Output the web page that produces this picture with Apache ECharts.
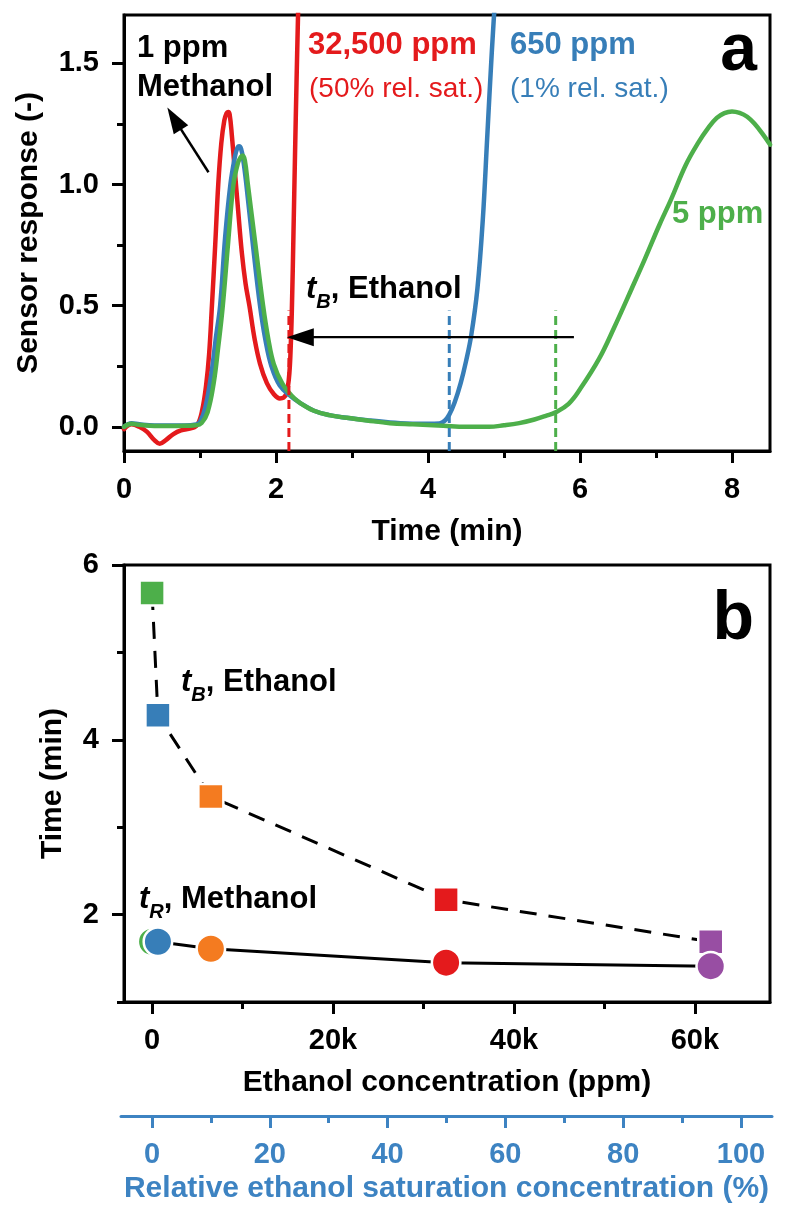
<!DOCTYPE html>
<html>
<head>
<meta charset="utf-8">
<script src="https://cdn.jsdelivr.net/npm/echarts@6/dist/echarts.min.js"></script>
<style>
html,body{margin:0;padding:0;background:#fff;}
#chart{width:786px;height:1205px;}
</style>
</head>
<body>
<div id="chart"></div>
<script>
// ---------- Panel (a): sensor response vs time ----------
const redTime  = [0,0.1,0.2,0.3,0.4,0.47,0.55,0.65,0.75,0.9,0.97,1.03,1.08,1.12,1.157,1.2,1.24,1.28,1.32,1.35,1.37,1.39,1.42,1.46,1.5,1.55,1.6,1.65,1.72,1.79,1.88,1.97,2.05,2.1,2.14,2.17,2.19,2.21,2.23,2.25,2.27,2.29,2.31];
const redResp  = [-0.01,0.01,0.0,-0.02,-0.055,-0.07,-0.055,-0.03,-0.015,-0.005,0.01,0.07,0.17,0.3,0.5,0.75,1.0,1.17,1.265,1.295,1.30,1.29,1.2,1.05,0.9,0.72,0.59,0.5,0.36,0.26,0.18,0.135,0.117,0.12,0.14,0.2,0.3,0.5,0.8,1.12,1.42,1.7,1.95];
const blueTime = [0,0.1,0.2,0.4,0.6,0.8,0.95,1.0,1.07,1.15,1.21,1.265,1.33,1.4,1.46,1.49,1.515,1.54,1.57,1.61,1.7,1.79,1.86,1.94,2.05,2.2,2.31,2.5,2.7,2.93,3.2,3.5,3.8,4.0,4.15,4.22,4.28,4.35,4.43,4.5,4.57,4.65,4.72,4.78,4.84,4.89,4.93];
const blueResp = [0.0,0.015,0.01,0.005,0.005,0.005,0.01,0.02,0.08,0.22,0.37,0.5,0.78,1.0,1.115,1.15,1.158,1.148,1.1,1.0,0.74,0.5,0.36,0.25,0.17,0.125,0.1,0.066,0.048,0.037,0.027,0.018,0.013,0.012,0.014,0.025,0.05,0.1,0.18,0.27,0.38,0.57,0.85,1.2,1.55,1.8,1.97];
const greenTime = [0,0.1,0.2,0.4,0.6,0.8,0.95,1.02,1.1,1.18,1.24,1.3,1.37,1.44,1.5,1.535,1.56,1.59,1.63,1.73,1.83,1.9,1.97,2.08,2.2,2.31,2.5,2.7,2.93,3.2,3.5,3.8,4.2,4.5,4.8,5.0,5.2,5.4,5.55,5.68,5.85,6.0,6.25,6.45,6.68,6.85,7.04,7.2,7.39,7.55,7.69,7.8,7.9,8.0,8.1,8.2,8.3,8.4,8.5];
const greenResp = [0.0,0.012,0.008,0.003,0.003,0.004,0.006,0.015,0.06,0.18,0.33,0.5,0.76,1.0,1.09,1.113,1.12,1.1,1.0,0.75,0.5,0.36,0.26,0.18,0.13,0.1,0.066,0.048,0.037,0.026,0.015,0.01,0.004,0.0,0.0,0.006,0.015,0.03,0.045,0.06,0.095,0.155,0.28,0.41,0.57,0.69,0.83,0.94,1.08,1.17,1.235,1.275,1.295,1.302,1.296,1.28,1.25,1.21,1.165];

// ---------- Panel (b): times vs ethanol concentration ----------
const ethanolPpm = [5, 650, 6500, 32500, 61750];
const tBreakEthanol = [5.68, 4.28, 3.35, 2.17, 1.69];
const tRetMethanol = [1.69, 1.69, 1.61, 1.45, 1.41];

// ---------- tick values ----------
const respTicks = [0, 0.5, 1.0, 1.5];
const respMinor = [0.25, 0.75, 1.25];
const timeTicksA = [0, 2, 4, 6, 8];
const timeMinorA = [1, 3, 5, 7];
const timeTicksB = [2, 4, 6];
const timeMinorB = [1, 3, 5];
const ppmTicks = [0, 20000, 40000, 60000];
const ppmMinor = [10000, 30000, 50000];
const relTicks = [0, 20, 40, 60, 80, 100];
const relMinor = [10, 30, 50, 70, 90];

const F = '"Liberation Sans", Arial, sans-serif';
const RED = '#E41A1C', BLUE = '#377EB8', GREEN = '#4DAF4A', ORANGE = '#F47B20', PURPLE = '#984EA3';
const AXBLUE = '#3D83C2';
const ptColors = [GREEN, BLUE, ORANGE, RED, PURPLE];

const zip = (a, b) => a.map((v, i) => [v, b[i]]);
const lblStyle = {fontFamily: F, fontWeight: 'bold', fontSize: 29, color: '#000'};
const nameStyle = {fontFamily: F, fontWeight: 'bold', fontSize: 30, color: '#000'};
const AW = 3;

function mainX(grid, min, max, labels, fmt, name, gap, color) {
  return {
    type: 'value', gridIndex: grid, min: min, max: max, position: 'bottom',
    splitLine: {show: false},
    axisLine: {show: true, onZero: false, lineStyle: {color: color || '#000', width: AW}},
    axisTick: {show: true, customValues: labels, length: 12, lineStyle: {color: color || '#000', width: AW}},
    axisLabel: {show: true, customValues: labels, margin: 24, formatter: fmt, ...lblStyle, color: color || '#000'},
    name: name, nameLocation: 'middle', nameGap: gap,
    nameTextStyle: {...nameStyle, color: color || '#000'}
  };
}
function minorX(grid, min, max, vals, color) {
  return {
    type: 'value', gridIndex: grid, min: min, max: max, position: 'bottom',
    splitLine: {show: false}, axisLine: {show: false, onZero: false},
    axisTick: {show: true, customValues: vals, length: 7, lineStyle: {color: color || '#000', width: AW}},
    axisLabel: {show: false}
  };
}
function mainY(grid, min, max, labels, fmt, name, gap) {
  return {
    type: 'value', gridIndex: grid, min: min, max: max, position: 'left',
    splitLine: {show: false},
    axisLine: {show: true, onZero: false, lineStyle: {color: '#000', width: AW}},
    axisTick: {show: true, customValues: labels, length: 12, lineStyle: {color: '#000', width: AW}},
    axisLabel: {show: true, customValues: labels, margin: 25, formatter: fmt, ...lblStyle},
    name: name, nameLocation: 'middle', nameGap: gap, nameTextStyle: nameStyle
  };
}
function minorY(grid, min, max, vals) {
  return {
    type: 'value', gridIndex: grid, min: min, max: max, position: 'left',
    splitLine: {show: false}, axisLine: {show: false, onZero: false},
    axisTick: {show: true, customValues: vals, length: 7, lineStyle: {color: '#000', width: AW}},
    axisLabel: {show: false}
  };
}

const PPM_MIN = -3100, PPM_MAX = 68300;
const REL_MIN = -5.26, REL_MAX = 105.27;

function curve(t, v, color, z) {
  return {type: 'line', xAxisIndex: 0, yAxisIndex: 0, data: zip(t, v), showSymbol: false, symbol: 'none',
    smooth: 0.4, lineStyle: {color: color, width: 4.5, cap: 'round', join: 'round'}, z: z};
}

const richSub = (sub, word) => ({
  text: '{t|t}{s|' + sub + '}{n|, ' + word + '}', verticalAlign: 'middle',
  rich: {t: {fontFamily: F, fontWeight: 'bold', fontStyle: 'italic', fontSize: 31, fill: '#000'},
         s: {fontFamily: F, fontWeight: 'bold', fontStyle: 'italic', fontSize: 20, fill: '#000', lineHeight: 46, verticalAlign: 'bottom'},
         n: {fontFamily: F, fontWeight: 'bold', fontSize: 31, fill: '#000'}}
});

const option = {
  animation: false,
  backgroundColor: '#fff',
  grid: [
    {left: 124, top: 15, width: 646, height: 436, show: true, borderColor: '#000', borderWidth: AW, outerBoundsMode: 'none', containLabel: false},
    {left: 124, top: 565, width: 646, height: 437, show: true, borderColor: '#000', borderWidth: AW, outerBoundsMode: 'none', containLabel: false},
    {left: 121, top: 1106, width: 651, height: 10, show: false, outerBoundsMode: 'none', containLabel: false}
  ],
  xAxis: [
    mainX(0, 0, 8.5, timeTicksA, v => String(v), 'Time (min)', 66),
    minorX(0, 0, 8.5, timeMinorA),
    mainX(1, PPM_MIN, PPM_MAX, ppmTicks, v => v === 0 ? '0' : (v / 1000) + 'k', 'Ethanol concentration (ppm)', 66),
    minorX(1, PPM_MIN, PPM_MAX, ppmMinor),
    mainX(2, REL_MIN, REL_MAX, relTicks, v => String(v), 'Relative ethanol saturation concentration (%)', 58, AXBLUE),
    minorX(2, REL_MIN, REL_MAX, relMinor, AXBLUE)
  ],
  yAxis: [
    mainY(0, -0.1, 1.7, respTicks, v => v.toFixed(1), 'Sensor response (-)', 80),
    minorY(0, -0.1, 1.7, respMinor),
    mainY(1, 1, 6, timeTicksB, v => String(v), 'Time (min)', 56),
    minorY(1, 1, 6, timeMinorB),
    {type: 'value', gridIndex: 2, min: 0, max: 1, show: false}
  ],
  series: [
    curve(redTime, redResp, RED, 3),
    curve(blueTime, blueResp, BLUE, 4),
    curve(greenTime, greenResp, GREEN, 5),
    ...[3, 1, 0].map(i => ({
      type: 'line', xAxisIndex: 0, yAxisIndex: 0, symbol: 'none', showSymbol: false,
      data: [[tBreakEthanol[i], -0.1], [tBreakEthanol[i], 0.48]],
      lineStyle: {color: ptColors[i], width: 3, type: [9, 5]}, z: 6
    })),
    {type: 'line', xAxisIndex: 0, yAxisIndex: 0, symbol: 'none', showSymbol: true,
     data: [{value: [5.92, 0.37], symbol: 'none'},
            {value: [2.32, 0.37], symbol: 'triangle', symbolSize: [18, 27], symbolRotate: 90}],
     lineStyle: {color: '#000', width: 2.2}, itemStyle: {color: '#000'}, z: 7},
    {type: 'line', xAxisIndex: 0, yAxisIndex: 0, symbol: 'none', showSymbol: true,
     data: [{value: [1.112, 1.051], symbol: 'none'},
            {value: [0.66, 1.272], symbol: 'triangle', symbolSize: [17, 26], symbolRotate: 31.7}],
     lineStyle: {color: '#000', width: 2.5}, itemStyle: {color: '#000'}, z: 7},
    {type: 'line', xAxisIndex: 2, yAxisIndex: 2, symbol: 'rect', symbolSize: 25, showSymbol: true,
     data: ethanolPpm.map((p, i) => ({value: [p, tBreakEthanol[i]], itemStyle: {color: ptColors[i]}})),
     itemStyle: {borderColor: '#fff', borderWidth: 2.5},
     lineStyle: {color: '#000', width: 3, type: [17, 12]}, z: 5},
    {type: 'line', xAxisIndex: 2, yAxisIndex: 2, symbol: 'circle', symbolSize: 28.5, showSymbol: true,
     data: ethanolPpm.map((p, i) => ({value: [p, tRetMethanol[i]], itemStyle: {color: ptColors[i]}})),
     itemStyle: {borderColor: '#fff', borderWidth: 2.5},
     lineStyle: {color: '#000', width: 3}, z: 5}
  ],
  graphic: [
    {type: 'text', z: 100, style: {x: 137, y: 48, text: '1 ppm', fill: '#000', fontFamily: F, fontWeight: 'bold', fontSize: 31, verticalAlign: 'middle'}},
    {type: 'text', z: 100, style: {x: 137, y: 87, text: 'Methanol', fill: '#000', fontFamily: F, fontWeight: 'bold', fontSize: 31, verticalAlign: 'middle'}},
    {type: 'text', z: 100, style: {x: 308, y: 45, text: '32,500 ppm', fill: RED, fontFamily: F, fontWeight: 'bold', fontSize: 31, verticalAlign: 'middle'}},
    {type: 'text', z: 100, style: {x: 309, y: 89, text: '(50% rel. sat.)', fill: RED, fontFamily: F, fontSize: 28, verticalAlign: 'middle'}},
    {type: 'text', z: 100, style: {x: 510, y: 45, text: '650 ppm', fill: BLUE, fontFamily: F, fontWeight: 'bold', fontSize: 31, verticalAlign: 'middle'}},
    {type: 'text', z: 100, style: {x: 510, y: 89, text: '(1% rel. sat.)', fill: BLUE, fontFamily: F, fontSize: 28, verticalAlign: 'middle'}},
    {type: 'text', z: 100, style: {x: 757, y: 52, text: 'a', fill: '#000', fontFamily: F, fontWeight: 'bold', fontSize: 66, align: 'right', verticalAlign: 'middle'}},
    {type: 'text', z: 100, style: {x: 672, y: 214, text: '5 ppm', fill: GREEN, fontFamily: F, fontWeight: 'bold', fontSize: 31, verticalAlign: 'middle'}},
    {type: 'text', z: 100, style: Object.assign({x: 306, y: 289}, richSub('B', 'Ethanol'))},
    {type: 'text', z: 100, style: {x: 754, y: 620, text: 'b', fill: '#000', fontFamily: F, fontWeight: 'bold', fontSize: 68, align: 'right', verticalAlign: 'middle'}},
    {type: 'text', z: 100, style: Object.assign({x: 181, y: 682}, richSub('B', 'Ethanol'))},
    {type: 'text', z: 100, style: Object.assign({x: 139, y: 899}, richSub('R', 'Methanol'))}
  ]
};

const chart = echarts.init(document.getElementById('chart'), null, {renderer: 'canvas'});
chart.setOption(option);
</script>
</body>
</html>
